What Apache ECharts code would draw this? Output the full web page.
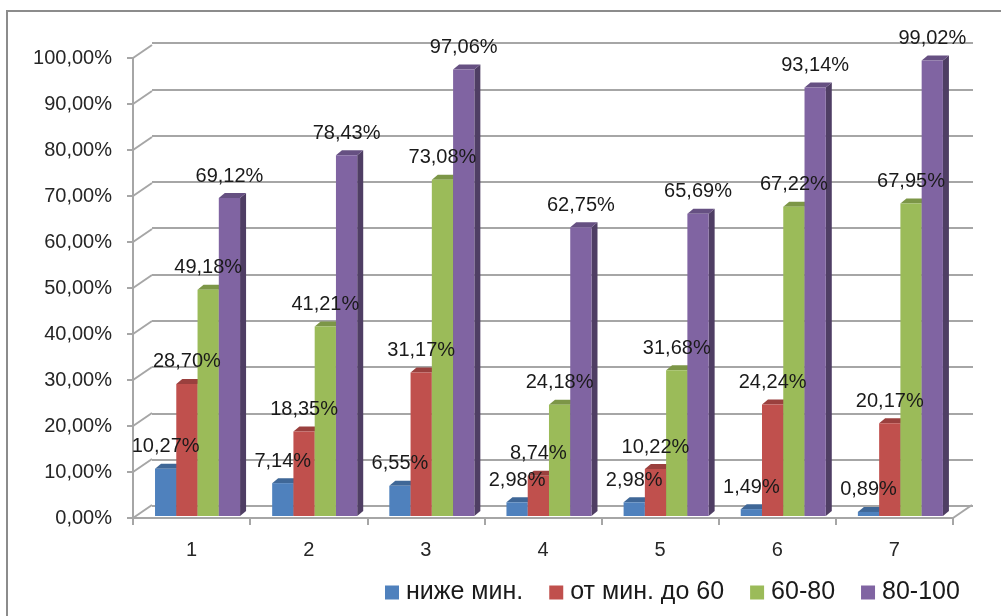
<!DOCTYPE html>
<html>
<head>
<meta charset="utf-8">
<script src="https://cdn.jsdelivr.net/npm/echarts@6/dist/echarts.min.js"></script>
<style>
html,body{margin:0;padding:0;background:#fff}
#chart{width:1001px;height:616px}
</style>
</head>
<body>
<div id="chart"></div>
<script>
// data
var categories = ['1', '2', '3', '4', '5', '6', '7'];
var seriesNames = ['ниже мин.', 'от мин. до 60', '60-80', '80-100'];
var belowMin    = [0.1027, 0.0714, 0.0655, 0.0298, 0.0298, 0.0149, 0.0089];
var minTo60     = [0.2870, 0.1835, 0.3117, 0.0874, 0.1022, 0.2424, 0.2017];
var from60to80  = [0.4918, 0.4121, 0.7308, 0.2418, 0.3168, 0.6722, 0.6795];
var from80to100 = [0.6912, 0.7843, 0.9706, 0.6275, 0.6569, 0.9314, 0.9902];
var yTicks = [0, 0.1, 0.2, 0.3, 0.4, 0.5, 0.6, 0.7, 0.8, 0.9, 1];

var colors = ['#4F81BD', '#C0504D', '#9BBB59', '#8064A2'];
var allValues = [belowMin, minTo60, from60to80, from80to100];

var DX = 19, DY = 13;      // depth of the back wall
var BDX = 6, BDY = 5;      // depth of a bar
var FONT = '"Liberation Sans", Arial, sans-serif';

function pct(v) {
  return (v * 100).toFixed(2).replace('.', ',') + '%';
}

function shade(hex, k) {
  var n = parseInt(hex.slice(1), 16);
  var r = Math.round(((n >> 16) & 255) * k);
  var g = Math.round(((n >> 8) & 255) * k);
  var b = Math.round((n & 255) * k);
  return 'rgb(' + r + ',' + g + ',' + b + ')';
}

// geometry of one bar (front face) from the front grid
function barBox(api, s) {
  var i = api.value(0), v = api.value(1);
  var p = api.coord([i, v]);
  var base = api.coord([i, 0]);
  var cw = api.size([1, 0])[0];
  var bw = cw * 0.1815;
  var left = base[0] - cw / 2 + cw * 0.188 + s * bw;
  return { left: left, w: bw, top: p[1] - 2, bottom: base[1] - 2 };
}

function makeBarRender(s) {
  return function (params, api) {
    var b = barBox(api, s);
    var c = colors[s];
    return {
      type: 'group',
      children: [
        { type: 'polygon', shape: { points: [[b.left + b.w, b.top], [b.left + b.w + BDX, b.top - BDY], [b.left + b.w + BDX, b.bottom - BDY], [b.left + b.w, b.bottom]] }, style: { fill: shade(c, 0.62) } },
        { type: 'polygon', shape: { points: [[b.left, b.top], [b.left + BDX, b.top - BDY], [b.left + b.w + BDX, b.top - BDY], [b.left + b.w, b.top]] }, style: { fill: shade(c, 0.8) } },
        { type: 'rect', shape: { x: b.left, y: b.top, width: b.w, height: b.bottom - b.top }, style: { fill: c } }
      ]
    };
  };
}

function makeLabelRender(s) {
  return function (params, api) {
    var b = barBox(api, s);
    return {
      type: 'text',
      x: b.left + b.w / 2,
      y: b.top - 22,
      style: { text: pct(api.value(1)), fill: '#1a1a1a', font: '20px ' + FONT, align: 'center', verticalAlign: 'middle' }
    };
  };
}

function renderWall(params, api) {
  var v = api.value(1);
  var p = api.coord([0, v]);
  var cw = api.size([1, 0])[0];
  var x0 = p[0] - cw / 2;
  var ls = { stroke: '#a6a6a6', lineWidth: 2 };
  var children = [{ type: 'line', shape: { x1: x0, y1: p[1], x2: x0 + DX, y2: p[1] - DY }, style: ls }];
  if (v === 0) {
    var xr = api.coord([categories.length - 1, 0])[0] + cw / 2;
    children.push({ type: 'line', shape: { x1: xr, y1: p[1], x2: xr + DX, y2: p[1] - DY }, style: ls });
  }
  return { type: 'group', children: children };
}

var series = [{
  type: 'custom',
  xAxisIndex: 0, yAxisIndex: 0,
  silent: true,
  renderItem: renderWall,
  data: yTicks.map(function (v) { return [0, v]; }),
  z: 1
}];

allValues.forEach(function (vals, s) {
  series.push({
    type: 'custom',
    name: seriesNames[s],
    xAxisIndex: 0, yAxisIndex: 0,
    itemStyle: { color: colors[s] },
    renderItem: makeBarRender(s),
    data: vals.map(function (v, i) { return [i, v]; }),
    z: 2
  });
});

allValues.forEach(function (vals, s) {
  series.push({
    type: 'custom',
    xAxisIndex: 0, yAxisIndex: 0,
    silent: true,
    renderItem: makeLabelRender(s),
    data: vals.map(function (v, i) { return [i, v]; }),
    z: 5
  });
});

var myChart = echarts.init(document.getElementById('chart'));

var option = {
  backgroundColor: '#fff',
  animation: false,
  color: colors,
  graphic: [{
    type: 'rect',
    shape: { x: 7, y: 11, width: 1100, height: 700 },
    style: { fill: 'none', stroke: '#8c8c8c', lineWidth: 2 },
    silent: true
  }],
  legend: {
    data: seriesNames,
    left: 380,
    top: 575,
    icon: 'rect',
    itemWidth: 14,
    itemHeight: 14,
    itemGap: 26,
    textStyle: { fontSize: 25, fontFamily: FONT, color: '#1a1a1a', padding: [0, 0, 0, 2] }
  },
  grid: [
    { left: 133, right: 48, top: 58, bottom: 98 },
    { left: 152, right: 28, top: 43, bottom: 110 }
  ],
  xAxis: [{
    type: 'category',
    gridIndex: 0,
    data: categories,
    axisLine: { lineStyle: { color: '#a6a6a6', width: 2 } },
    axisTick: { show: true, length: 7, lineStyle: { color: '#a6a6a6', width: 2 } },
    axisLabel: { margin: 22, fontSize: 20, fontFamily: FONT, color: '#262626' },
    splitLine: { show: false }
  }, {
    type: 'category',
    gridIndex: 1,
    data: categories,
    show: false
  }],
  yAxis: [{
    type: 'value',
    gridIndex: 0,
    min: 0,
    max: 1,
    interval: 0.1,
    axisLine: { show: true, lineStyle: { color: '#a6a6a6', width: 2 } },
    axisTick: { show: true, length: 6, lineStyle: { color: '#a6a6a6', width: 2 } },
    axisLabel: { margin: 21, fontSize: 20, fontFamily: FONT, color: '#262626', formatter: pct },
    splitLine: { show: false }
  }, {
    type: 'value',
    gridIndex: 1,
    min: 0,
    max: 1,
    interval: 0.1,
    axisLine: { show: false },
    axisTick: { show: false },
    axisLabel: { show: false },
    splitLine: { show: true, lineStyle: { color: '#a6a6a6', width: 2 } }
  }],
  series: series
};

myChart.setOption(option);
</script>
</body>
</html>
